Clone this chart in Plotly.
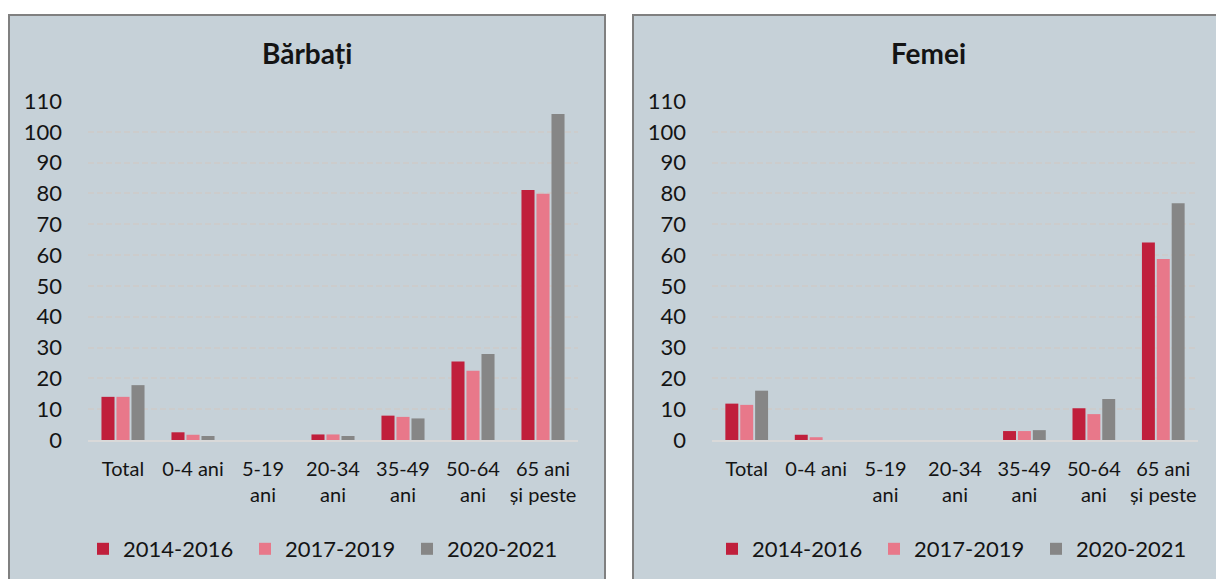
import plotly.graph_objects as go

categories = ["Total", "0-4 ani", "5-19<br>ani", "20-34<br>ani", "35-49<br>ani", "50-64<br>ani", "65 ani<br>și peste"]
series_names = ["2014-2016", "2017-2019", "2020-2021"]
colors = ["#C01F3C", "#E8788A", "#868686"]

barbati_2014_2016 = [14.0, 2.5, 0, 1.8, 7.9, 25.5, 81.1]
barbati_2017_2019 = [14.0, 1.7, 0, 1.8, 7.5, 22.5, 79.9]
barbati_2020_2021 = [17.8, 1.3, 0, 1.3, 7.0, 27.9, 105.8]

femei_2014_2016 = [11.8, 1.7, 0, 0, 2.9, 10.3, 64.1]
femei_2017_2019 = [11.4, 0.9, 0, 0, 2.9, 8.4, 58.7]
femei_2020_2021 = [16.0, 0, 0, 0, 3.2, 13.3, 76.8]

y_ticks = list(range(0, 111, 10))

W, H = 1216, 579
FONT = "Lato"
TXT = "#141414"
PANEL = "#C6D1D8"

def px_x(p):
    return p / W

def px_y(p):
    return 1 - p / H

fig = go.Figure()

left = [barbati_2014_2016, barbati_2017_2019, barbati_2020_2021]
right = [femei_2014_2016, femei_2017_2019, femei_2020_2021]

for i, name in enumerate(series_names):
    fig.add_trace(go.Bar(x=categories, y=left[i], name=name, marker_color=colors[i],
                         marker_line=dict(width=0),
                         xaxis="x", yaxis="y", legend="legend"))
for i, name in enumerate(series_names):
    fig.add_trace(go.Bar(x=categories, y=right[i], name=name, marker_color=colors[i],
                         marker_line=dict(width=0),
                         xaxis="x2", yaxis="y2", legend="legend2"))

ydom = [px_y(440), px_y(101)]
axis_common_x = dict(type="category", range=[-0.5, 6.5], showgrid=False, showline=True,
                     linecolor="#D9D9D9", linewidth=2, ticks="", tickfont=dict(family=FONT, size=20, color=TXT),
                     ticklabelstandoff=10, fixedrange=True)
axis_common_y = dict(range=[0, 110], tickvals=y_ticks, showgrid=True, gridcolor="#CCCCCC", gridwidth=2,
                     griddash="6px,3px", zeroline=False, showline=False, ticks="",
                     tickfont=dict(family=FONT, size=22, color=TXT), ticklabelstandoff=25, fixedrange=True)

legend_common = dict(orientation="h", xanchor="left", yanchor="middle",
                     font=dict(family=FONT, size=22, color=TXT), bgcolor="rgba(0,0,0,0)",
                     entrywidth=117, entrywidthmode="pixels", itemwidth=30, traceorder="normal")

fig.update_layout(
    width=W, height=H,
    margin=dict(l=0, r=0, t=0, b=0, autoexpand=False),
    paper_bgcolor="white",
    plot_bgcolor="white",
    barmode="group",
    bargap=0.357,
    bargroupgap=0.13,
    xaxis=dict(domain=[px_x(88), px_x(578)], anchor="y", automargin=False, **axis_common_x),
    yaxis=dict(domain=ydom, anchor="x", automargin=False, **axis_common_y),
    xaxis2=dict(domain=[px_x(712), px_x(1198)], anchor="y2", automargin=False, **axis_common_x),
    yaxis2=dict(domain=ydom, anchor="x2", automargin=False, **axis_common_y),
    legend=dict(x=px_x(83), y=px_y(549), **legend_common),
    legend2=dict(x=px_x(712), y=px_y(549), **legend_common),
    shapes=[
        dict(type="rect", xref="paper", yref="paper", x0=px_x(9), x1=px_x(605), y0=px_y(600), y1=px_y(15),
             fillcolor=PANEL, line=dict(color="#808080", width=2), layer="below"),
        dict(type="rect", xref="paper", yref="paper", x0=px_x(633), x1=px_x(1240), y0=px_y(600), y1=px_y(15),
             fillcolor=PANEL, line=dict(color="#808080", width=2), layer="below"),
    ],
    annotations=[
        dict(text="<b>Bărbați</b>", xref="paper", yref="paper", x=px_x(307), y=px_y(53),
             showarrow=False, font=dict(family=FONT, size=28, color=TXT), xanchor="center", yanchor="middle"),
        dict(text="<b>Femei</b>", xref="paper", yref="paper", x=px_x(928), y=px_y(53),
             showarrow=False, font=dict(family=FONT, size=28, color=TXT), xanchor="center", yanchor="middle"),
    ],
)

fig.write_html("out.html")
